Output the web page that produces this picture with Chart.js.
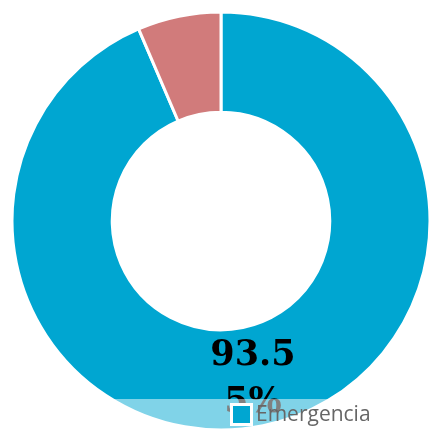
<!DOCTYPE html>
<html lang="es">
<head>
    <meta charset="UTF-8">
    <title>Emergencia</title>
    <style>
        body { margin: 0; padding: 0; background: #ffffff; }
        .wrap { width: 430px; height: 430px; position: relative; }
    </style>
    <script src="https://cdn.jsdelivr.net/npm/chart.js"></script>
</head>
<body>
    <div class="wrap">
        <canvas id="chart" width="430" height="430"></canvas>
    </div>

    <script>
        // data
        const categories = ['Emergencia', 'Otros'];
        const values = [93.55, 6.45];
        const sliceColors = ['#00a6d1', '#d17b7b'];
        const valueLabels = ['93.5\n5%', ''];

        // value label on the big slice, then the faded legend strip over the bottom
        const overlayPlugin = {
            id: 'overlay',
            afterDraw(chart) {
                const ctx = chart.ctx;
                const meta = chart.getDatasetMeta(0);

                ctx.save();
                ctx.font = 'bold 35px "DejaVu Serif", serif';
                ctx.fillStyle = '#000000';
                ctx.textAlign = 'center';
                ctx.textBaseline = 'middle';
                meta.data.forEach((arc, i) => {
                    if (!valueLabels[i]) return;
                    const pos = arc.tooltipPosition();
                    const lines = valueLabels[i].split('\n');
                    lines.forEach((line, j) => {
                        ctx.fillText(line, pos.x, pos.y + 3 + (j - (lines.length - 1) / 2) * 47);
                    });
                });

                // legend box background
                ctx.fillStyle = 'rgba(255, 255, 255, 0.5)';
                ctx.fillRect(0, 399, chart.width, chart.height - 399);

                // legend item
                ctx.fillStyle = '#ffffff';
                ctx.fillRect(230, 403, 23, 23);
                ctx.fillStyle = sliceColors[0];
                ctx.fillRect(233, 406, 17, 17);
                ctx.font = '21px "Open Sans", sans-serif';
                ctx.fillStyle = '#666666';
                ctx.textAlign = 'left';
                ctx.fillText(categories[0], 256, 415);
                ctx.restore();
            }
        };

        new Chart(document.getElementById('chart'), {
            type: 'doughnut',
            data: {
                labels: categories,
                datasets: [{
                    data: values,
                    backgroundColor: sliceColors,
                    borderColor: '#ffffff',
                    borderWidth: 3
                }]
            },
            options: {
                responsive: false,
                animation: false,
                radius: 209,
                cutout: 108,
                layout: { padding: { left: 12, top: 12, right: 0, bottom: 0 } },
                plugins: {
                    legend: { display: false },
                    tooltip: { enabled: false }
                }
            },
            plugins: [overlayPlugin]
        });
    </script>
</body>
</html>
